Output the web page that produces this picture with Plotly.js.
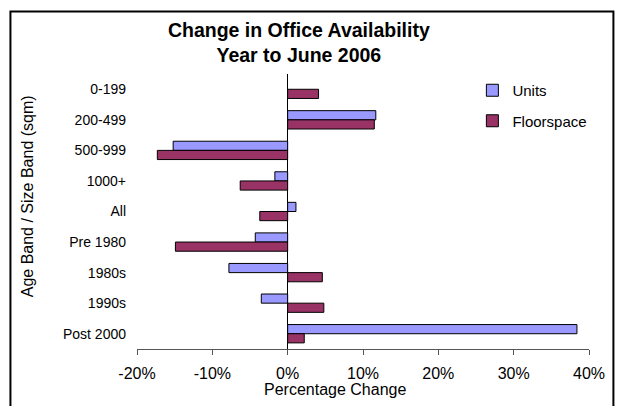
<!DOCTYPE html>
<html>
<head>
<meta charset="utf-8">
<script src="https://cdn.plot.ly/plotly-3.0.1.min.js"></script>
<style>html,body{margin:0;padding:0;background:#fff;}#chart{width:620px;height:406px;}</style>
</head>
<body>
<div id="chart"></div>
<script>
var categories = ["0-199", "200-499", "500-999", "1000+", "All", "Pre 1980", "1980s", "1990s", "Post 2000"];
var unitsValues = [null, 0.117, -0.152, -0.017, 0.011, -0.043, -0.078, -0.035, 0.384];
var floorspaceValues = [0.041, 0.115, -0.173, -0.063, -0.037, -0.149, 0.046, 0.048, 0.022];
var tickValues = [-0.2, -0.1, 0, 0.1, 0.2, 0.3, 0.4];
var tickLabels = ["-20%", "-10%", "0%", "10%", "20%", "30%", "40%"];

var font = "Arial, 'Liberation Sans', sans-serif";

var traces = [
  {type: "bar", orientation: "h", name: "Units", legendgroup: "u", y: categories, x: unitsValues,
   marker: {color: "#9999FF", line: {color: "#000000", width: 1}}},
  {type: "bar", orientation: "h", name: "Floorspace", legendgroup: "f", y: categories, x: floorspaceValues,
   marker: {color: "#993366", line: {color: "#000000", width: 1}}}
];

var layout = {
  width: 620, height: 406,
  margin: {l: 137, r: 31, t: 74, b: 57, pad: 0},
  paper_bgcolor: "#ffffff", plot_bgcolor: "#ffffff",
  font: {family: font, color: "#000000", size: 14},
  showlegend: true,
  barmode: "group", bargap: 0.4, bargroupgap: 0,
  title: {text: "<b>Change in Office Availability<br>Year to June 2006</b>",
          font: {family: font, size: 19.5, color: "#000"},
          x: 0.482, xref: "container", xanchor: "center",
          y: 0.91, yref: "container", yanchor: "middle"},
  xaxis: {range: [-0.2, 0.4], tickvals: tickValues, ticktext: tickLabels,
          showgrid: false, zeroline: true, zerolinecolor: "#000", zerolinewidth: 1,
          showline: true, linecolor: "#555", linewidth: 1,
          ticks: "outside", ticklen: 5, tickcolor: "#555", ticklabelstandoff: 5,
          tickfont: {size: 16, family: font, color: "#000"}, fixedrange: true},
  yaxis: {type: "category", autorange: "reversed", showgrid: false, zeroline: false,
          showline: false, ticks: "", ticklabelstandoff: 10,
          tickfont: {size: 14, family: font, color: "#000"}, fixedrange: true},
  legend: {x: 0.742, y: 1.0, xanchor: "left", yanchor: "top", traceorder: "grouped",
           tracegroupgap: 8,
           font: {size: 15, family: font, color: "#000"}, bgcolor: "rgba(0,0,0,0)"},
  annotations: [
    {text: "Age Band / Size Band (sqm)", xref: "paper", yref: "paper",
     x: -0.243, y: 0.556, xanchor: "center", yanchor: "middle", textangle: -90,
     showarrow: false, font: {size: 16, family: font, color: "#000"}},
    {text: "Percentage Change", xref: "paper", yref: "paper",
     x: 0.437, y: -0.149, xanchor: "center", yanchor: "middle",
     showarrow: false, font: {size: 16, family: font, color: "#000"}}
  ],
  shapes: [
    {type: "rect", xref: "paper", yref: "paper", x0: -0.28, x1: 1.054, y0: -0.25, y1: 1.227,
     line: {color: "#000", width: 2}, fillcolor: "rgba(0,0,0,0)"}
  ]
};

Plotly.newPlot("chart", traces, layout, {displayModeBar: false, staticPlot: true});
</script>
</body>
</html>
